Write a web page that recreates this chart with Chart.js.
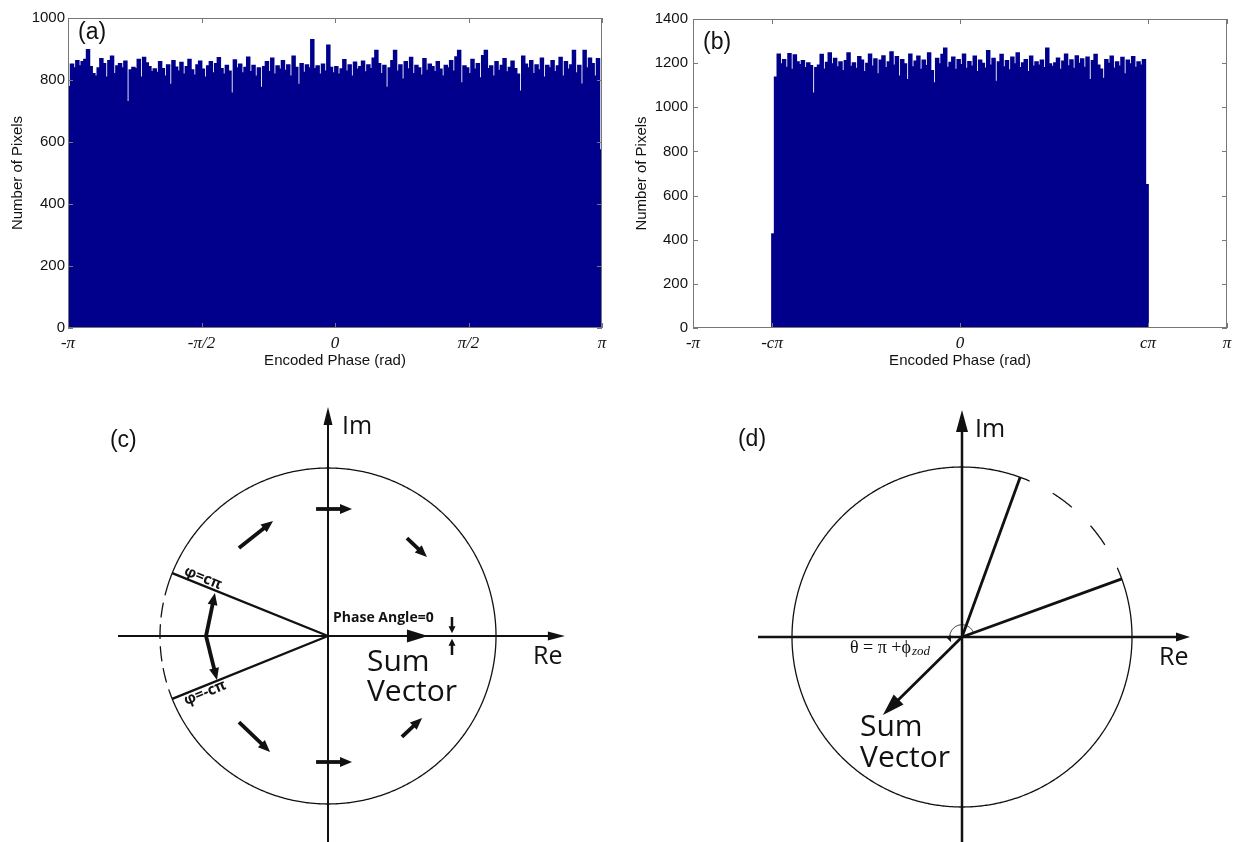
<!DOCTYPE html>
<html>
<head>
<meta charset="utf-8">
<script src="https://cdn.jsdelivr.net/npm/chart.js@4.4.1/dist/chart.umd.min.js"></script>
<style>
  html, body { margin: 0; padding: 0; background: #fff; }
  #page { position: relative; width: 1238px; height: 842px; overflow: hidden; }
  #page canvas { position: absolute; }
</style>
</head>
<body>
<div id="page">
  <canvas id="histA" width="615" height="370" style="left:0;top:0"></canvas>
  <canvas id="histB" width="618" height="370" style="left:620px;top:0"></canvas>
  <canvas id="diagC" width="619" height="472" style="left:0;top:370px"></canvas>
  <canvas id="diagD" width="619" height="472" style="left:619px;top:370px"></canvas>
</div>
<script>
const BAR = 'rgb(0,0,140)';
const INK = '#111';
const PI = Math.PI;

// (a) histogram of encoded phase, full range
const phaseTicksA = [-PI, -PI / 2, 0, PI / 2, PI];
const phaseLabelsA = ['-π', '-π/2', '0', 'π/2', 'π'];
const countTicksA = [0, 200, 400, 600, 800, 1000];
const countsA = [
  778, 850, 838, 862, 845, 858, 866, 897, 842, 820, 812, 838, 868, 852, 808, 862, 876, 820, 845, 852,
  838, 860, 729, 832, 840, 836, 866, 808, 872, 854, 842, 826, 835, 824, 858, 836, 812, 848, 785, 862,
  841, 828, 856, 818, 842, 866, 832, 815, 848, 860, 834, 808, 845, 858, 822, 852, 871, 836, 818, 846,
  828, 757, 864, 838, 850, 822, 840, 873, 826, 846, 812, 838, 775, 842, 858, 826, 870, 818, 845, 834,
  862, 830, 848, 812, 876, 840, 785, 852, 824, 848, 838, 929, 836, 845, 818, 850, 828, 912, 840, 822,
  842, 818, 835, 865, 828, 848, 812, 857, 834, 842, 860, 825, 848, 836, 870, 895, 852, 820, 846, 775,
  838, 862, 895, 828, 848, 802, 858, 835, 872, 820, 846, 838, 815, 868, 830, 850, 842, 826, 858, 834,
  812, 846, 838, 862, 828, 874, 895, 790, 845, 838, 820, 866, 834, 852, 806, 878, 895, 836, 845, 812,
  858, 830, 846, 868, 825, 840, 860, 836, 818, 763, 876, 850, 838, 862, 820, 848, 832, 870, 808, 846,
  838, 862, 826, 845, 872, 812, 858, 834, 848, 895, 822, 846, 786, 895, 838, 870, 852, 812, 868, 574
];

// (b) histogram, phase limited to [-c*pi, c*pi]
const cFactor = 0.704;
const phaseTicksB = [-PI, -cFactor * PI, 0, cFactor * PI, PI];
const phaseLabelsB = ['-π', '-cπ', '0', 'cπ', 'π'];
const countTicksB = [0, 200, 400, 600, 800, 1000, 1200, 1400];
const countsB = [
  425, 1135, 1240, 1195, 1215, 1180, 1242, 1170, 1236, 1205, 1192, 1210, 1178, 1200, 1188, 1063, 1178, 1190, 1238, 1172,
  1202, 1245, 1196, 1220, 1182, 1205, 1165, 1210, 1245, 1184, 1200, 1175, 1228, 1212, 1160, 1198, 1240, 1185, 1218, 1150,
  1212, 1232, 1178, 1205, 1250, 1190, 1228, 1140, 1215, 1196, 1124, 1240, 1182, 1208, 1230, 1170, 1212, 1188, 1245, 1165,
  1109, 1220, 1195, 1238, 1267, 1180, 1202, 1226, 1170, 1215, 1192, 1240, 1175, 1206, 1185, 1230, 1160, 1212, 1198, 1176,
  1256, 1190, 1220, 1116, 1205, 1238, 1182, 1210, 1168, 1226, 1195, 1245, 1178, 1200, 1215, 1160, 1230, 1185, 1205, 1190,
  1212, 1178, 1267, 1196, 1184, 1200, 1222, 1170, 1208, 1240, 1186, 1214, 1175, 1232, 1198, 1218, 1180, 1226, 1124, 1210,
  1238, 1190, 1172, 1130, 1215, 1198, 1230, 1176, 1205, 1185, 1225, 1150, 1212, 1195, 1228, 1180, 1205, 1190, 1215, 648
];

// (c) phasor diagram, unit circle; angles in degrees, points as [x0, y0, x1, y1]
const cSolidArc = [-161, 161];
const cDashedArc = [161, 199];
const cPhaseAngles = [158, -158];
const cReAxis = [-1.25, 1.41];
const cImAxis = [-1.25, 1.363];
const cUnitArrows = [
  [-0.071, 0.756, 0.143, 0.756],
  [-0.071, -0.75, 0.143, -0.75],
  [-0.53, 0.524, -0.327, 0.685],
  [-0.53, -0.512, -0.345, -0.69],
  [0.47, 0.583, 0.589, 0.47],
  [0.44, -0.60, 0.56, -0.488],
  [-0.726, 0, -0.673, 0.256],
  [-0.726, 0, -0.661, -0.262]
];
const cZeroMarks = [
  [0.738, 0.113, 0.738, 0.016],
  [0.738, -0.113, 0.738, -0.016]
];
const cSumVector = [0, 0, 0.595, 0];

// (d) shifted range and resulting sum vector
const dSolidArc = [66.7, 384];
const dDashedArc = [24, 66.7];
const dPhaseAngles = [20, 70];
const dReAxis = [-1.2, 1.341];
const dImAxis = [-1.22, 1.335];
const dSumVector = [0, 0, -0.465, -0.459];
const dThetaArc = [18, 203];
const dThetaRadius = 0.072;

const boxTicks = {
  id: 'boxTicks',
  afterDraw(chart) {
    const { ctx, chartArea: a, scales: { x, y } } = chart;
    ctx.save();
    ctx.strokeStyle = '#777';
    ctx.lineWidth = 1;
    ctx.strokeRect(a.left + 0.5, a.top + 0.5, a.right - a.left - 1, a.bottom - a.top - 1);
    ctx.beginPath();
    x.ticks.forEach(t => {
      const px = Math.round(x.getPixelForValue(t.value)) + 0.5;
      ctx.moveTo(px, a.bottom); ctx.lineTo(px, a.bottom - 5);
      ctx.moveTo(px, a.top); ctx.lineTo(px, a.top + 5);
    });
    y.ticks.forEach(t => {
      const py = Math.round(y.getPixelForValue(t.value)) + 0.5;
      ctx.moveTo(a.left, py); ctx.lineTo(a.left + 5, py);
      ctx.moveTo(a.right, py); ctx.lineTo(a.right - 5, py);
    });
    ctx.stroke();
    ctx.restore();
  }
};

const panelLabel = {
  id: 'panelLabel',
  afterDraw(chart, args, opts) {
    const { ctx, chartArea: a } = chart;
    ctx.save();
    ctx.fillStyle = INK;
    ctx.font = '23px "Liberation Sans", Arial, sans-serif';
    ctx.textBaseline = 'middle';
    ctx.fillText(opts.text, a.left + opts.dx, a.top + opts.dy);
    ctx.restore();
  }
};

function histogram(id, cfg) {
  const n = cfg.counts.length;
  const w = (cfg.hi - cfg.lo) / n;
  const pts = cfg.counts.map((v, i) => ({ x: cfg.lo + (i + 0.5) * w, y: v }));
  const sans = { family: '"Liberation Sans", Arial, sans-serif', size: 15 };
  return new Chart(document.getElementById(id), {
    type: 'bar',
    data: {
      datasets: [{
        data: pts, backgroundColor: BAR, borderWidth: 0, inflateAmount: 0.9,
        barPercentage: 1, categoryPercentage: 1
      }]
    },
    options: {
      responsive: false,
      animation: false,
      layout: { padding: { top: cfg.padTop, right: cfg.padRight, left: 0, bottom: 0 } },
      plugins: {
        legend: { display: false },
        tooltip: { enabled: false },
        panelLabel: { text: cfg.label, dx: 10, dy: cfg.labelDy }
      },
      scales: {
        x: {
          type: 'linear', offset: false, min: -PI, max: PI,
          grid: { display: false, drawTicks: false }, border: { display: false },
          afterBuildTicks: s => { s.ticks = cfg.xTicks.map(v => ({ value: v })); },
          afterFit: s => { s.height = 42; s.paddingLeft = 0; s.paddingRight = 0; },
          ticks: {
            autoSkip: false, maxRotation: 0, padding: 5, color: INK,
            font: { family: '"Liberation Serif", "Times New Roman", serif', style: 'italic', size: 17 },
            callback: (v, i) => cfg.xLabels[i]
          },
          title: { display: true, text: 'Encoded Phase (rad)', color: INK, font: sans, padding: { top: 0, bottom: 0 } }
        },
        y: {
          min: 0, max: cfg.yTicks[cfg.yTicks.length - 1],
          grid: { display: false, drawTicks: false }, border: { display: false },
          afterBuildTicks: s => { s.ticks = cfg.yTicks.map(v => ({ value: v })); },
          afterFit: s => { s.width = cfg.axisWidth; s.paddingTop = 0; s.paddingBottom = 0; },
          ticks: { padding: cfg.tickPad, color: INK, font: sans, callback: v => String(v) },
          title: { display: true, text: 'Number of Pixels', color: INK, font: sans, padding: { top: cfg.titlePad, bottom: 0 } }
        }
      }
    },
    plugins: [boxTicks, panelLabel]
  });
}

histogram('histA', {
  counts: countsA, lo: -PI, hi: PI, xTicks: phaseTicksA, xLabels: phaseLabelsA, yTicks: countTicksA,
  padTop: 18, padRight: 13, axisWidth: 68, tickPad: 3, titlePad: 9, label: '(a)', labelDy: 15
});
histogram('histB', {
  counts: countsB, lo: -cFactor * PI, hi: cFactor * PI, xTicks: phaseTicksB, xLabels: phaseLabelsB, yTicks: countTicksB,
  padTop: 19, padRight: 11, axisWidth: 73, tickPad: 5, titlePad: 13, label: '(b)', labelDy: 24
});

function arcPoints(r, a0, a1) {
  const pts = [];
  const steps = Math.max(2, Math.ceil(Math.abs(a1 - a0)));
  for (let i = 0; i <= steps; i++) {
    const a = (a0 + (a1 - a0) * i / steps) * PI / 180;
    pts.push({ x: r * Math.cos(a), y: r * Math.sin(a) });
  }
  return pts;
}

function diagram(id, cfg) {
  const el = document.getElementById(id);
  const ppu = cfg.ppu;
  const datasets = [];
  const heads = [];
  // curved paths get a tiny tension so Chart.js does not use its x-monotonic fast path
  const line = (pts, width, dash, dashOffset, curved) => datasets.push({
    data: pts, showLine: true, borderColor: INK, borderWidth: width, borderDash: dash || [],
    borderDashOffset: dashOffset || 0, borderCapStyle: 'butt', pointRadius: 0, fill: false,
    tension: curved ? 0.01 : 0
  });
  const arrow = ([x0, y0, x1, y1], st) => {
    const d = Math.hypot(x1 - x0, y1 - y0);
    const back = 0.6 * st.len / ppu;
    line([{ x: x0, y: y0 }, { x: x1 - (x1 - x0) / d * back, y: y1 - (y1 - y0) / d * back }], st.width);
    heads.push({ x0, y0, x1, y1, len: st.len, half: st.half });
  };

  line(arcPoints(1, cfg.solidArc[0], cfg.solidArc[1]), 1.3, null, 0, true);
  line(arcPoints(1, cfg.dashedArc[0], cfg.dashedArc[1]), 1.3, cfg.dash, cfg.dashOffset, true);
  arrow([cfg.reAxis[0], 0, cfg.reAxis[1], 0], cfg.reStyle);
  arrow([0, cfg.imAxis[0], 0, cfg.imAxis[1]], cfg.imStyle);
  cfg.phaseAngles.forEach(a => line([{ x: 0, y: 0 }, { x: Math.cos(a * PI / 180), y: Math.sin(a * PI / 180) }], cfg.phaseWidth));
  cfg.arrows.forEach(([list, st]) => list.forEach(p => arrow(p, st)));
  if (cfg.thetaArc) {
    const pts = arcPoints(cfg.thetaRadius, cfg.thetaArc[0], cfg.thetaArc[1]);
    line(pts, 1, null, 0, true);
    const p = pts[pts.length - 4], q = pts[pts.length - 1];
    heads.push({ x0: p.x, y0: p.y, x1: q.x, y1: q.y, len: 6, half: 2.6 });
  }

  const decor = {
    id: 'decor',
    afterDatasetsDraw(chart) {
      const { ctx, scales: { x, y } } = chart;
      ctx.save();
      ctx.fillStyle = INK;
      heads.forEach(h => {
        const tx = x.getPixelForValue(h.x1), ty = y.getPixelForValue(h.y1);
        const fx = x.getPixelForValue(h.x0), fy = y.getPixelForValue(h.y0);
        const d = Math.hypot(tx - fx, ty - fy), ux = (tx - fx) / d, uy = (ty - fy) / d;
        const bx = tx - ux * h.len, by = ty - uy * h.len;
        ctx.beginPath();
        ctx.moveTo(tx, ty);
        ctx.lineTo(bx - uy * h.half, by + ux * h.half);
        ctx.lineTo(bx + uy * h.half, by - ux * h.half);
        ctx.closePath();
        ctx.fill();
      });
      cfg.texts.forEach(t => {
        ctx.save();
        ctx.translate(x.getPixelForValue(t.x), y.getPixelForValue(t.y));
        if (t.rot) ctx.rotate(t.rot * PI / 180);
        ctx.font = t.font;
        ctx.textAlign = t.align || 'left';
        ctx.textBaseline = 'middle';
        ctx.fillText(t.text, 0, 0);
        if (t.sub) {
          const w = ctx.measureText(t.text).width;
          ctx.font = t.subFont;
          ctx.fillText(t.sub, w + 1, 4);
        }
        ctx.restore();
      });
      ctx.restore();
    }
  };

  return new Chart(el, {
    type: 'scatter',
    data: { datasets },
    options: {
      responsive: false,
      animation: false,
      layout: { padding: 0, autoPadding: false },
      plugins: { legend: { display: false }, tooltip: { enabled: false } },
      scales: {
        x: { type: 'linear', display: false, min: -cfg.origin[0] / ppu, max: (el.width - cfg.origin[0]) / ppu },
        y: { type: 'linear', display: false, min: -(el.height - cfg.origin[1]) / ppu, max: cfg.origin[1] / ppu }
      }
    },
    plugins: [decor]
  });
}

const OPEN = '"Open Sans", "Noto Sans", sans-serif';
diagram('diagC', {
  ppu: 168, origin: [328, 266],
  solidArc: cSolidArc, dashedArc: cDashedArc, dash: [15, 7], dashOffset: 0,
  reAxis: cReAxis, imAxis: cImAxis,
  reStyle: { width: 2, len: 17, half: 4.5 }, imStyle: { width: 2, len: 18, half: 4.5 },
  phaseAngles: cPhaseAngles, phaseWidth: 2.3,
  arrows: [
    [cUnitArrows, { width: 3.8, len: 12, half: 5 }],
    [cZeroMarks, { width: 2.5, len: 7, half: 3.5 }],
    [[cSumVector], { width: 2, len: 21, half: 6.5 }]
  ],
  texts: [
    { text: '(c)', x: -1.298, y: 1.161, font: '23px "Liberation Sans", Arial, sans-serif' },
    { text: 'Im', x: 0.083, y: 1.244, font: '25px ' + OPEN },
    { text: 'Re', x: 1.22, y: -0.125, font: '25px ' + OPEN },
    { text: 'Phase Angle=0', x: 0.03, y: 0.107, font: 'bold 14px ' + OPEN },
    { text: 'Sum', x: 0.232, y: -0.155, font: '30px ' + OPEN },
    { text: 'Vector', x: 0.232, y: -0.339, font: '30px ' + OPEN },
    { text: 'φ=cπ', x: -0.744, y: 0.345, rot: 22.2, align: 'center', font: 'bold 15px ' + OPEN },
    { text: 'φ=-cπ', x: -0.732, y: -0.339, rot: -22.2, align: 'center', font: 'bold 15px ' + OPEN }
  ]
});

diagram('diagD', {
  ppu: 170, origin: [343, 267],
  solidArc: dSolidArc, dashedArc: dDashedArc, dash: [24, 26], dashOffset: 24,
  reAxis: dReAxis, imAxis: dImAxis,
  reStyle: { width: 2.5, len: 14, half: 4.5 }, imStyle: { width: 2.5, len: 22, half: 6 },
  phaseAngles: dPhaseAngles, phaseWidth: 2.8,
  arrows: [
    [[dSumVector], { width: 2.8, len: 22, half: 7 }]
  ],
  thetaArc: dThetaArc, thetaRadius: dThetaRadius,
  texts: [
    { text: '(d)', x: -1.318, y: 1.159, font: '23px "Liberation Sans", Arial, sans-serif' },
    { text: 'Im', x: 0.076, y: 1.218, font: '25px ' + OPEN },
    { text: 'Re', x: 1.159, y: -0.124, font: '25px ' + OPEN },
    { text: 'θ = π +ϕ', sub: 'zod', x: -0.659, y: -0.065, font: '18px "Liberation Serif", serif', subFont: 'italic 13px "Liberation Serif", serif' },
    { text: 'Sum', x: -0.6, y: -0.535, font: '30px ' + OPEN },
    { text: 'Vector', x: -0.6, y: -0.712, font: '30px ' + OPEN }
  ]
});
</script>
</body>
</html>
